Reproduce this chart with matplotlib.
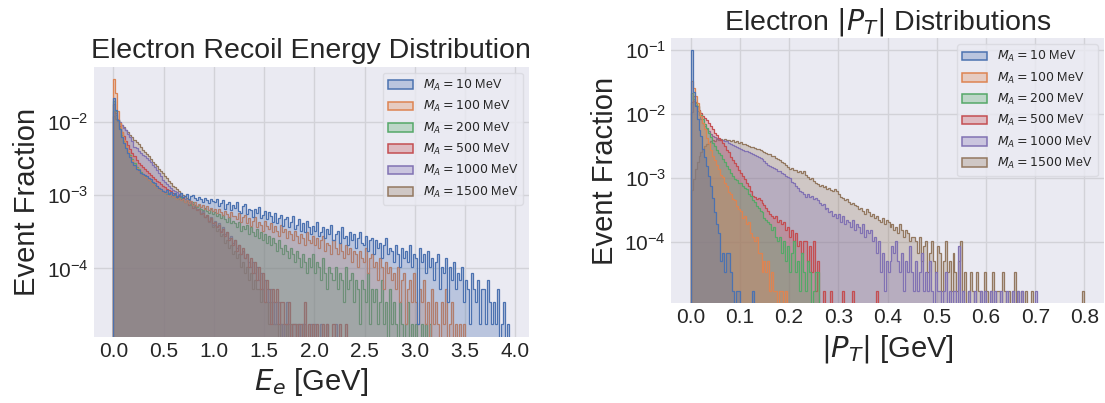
"Electron recoil energy and pT distributions for several A' masses"

import numpy as np
import matplotlib
matplotlib.use("Agg")
import matplotlib.pyplot as plt
from matplotlib.patches import Patch

N_EVENTS = 58000
masses = [10, 100, 200, 500, 1000, 1500]
colors = ["#4C72B0", "#DD8452", "#55A868", "#C44E52", "#8172B3", "#937860"]

# recoil energy histograms: counts per 0.02 GeV bin
ee_edges = np.linspace(0, 3.94, 198)
ee_m10 = [
    1210, 842, 603, 455, 360, 298, 257, 218, 193, 166,
    148, 133, 126, 117, 114, 108, 104, 99, 95, 88,
    84, 77, 73, 70, 66, 64, 67, 60, 63, 58,
    61, 55, 59, 62, 54, 57, 60, 52, 56, 58,
    53, 49, 55, 51, 47, 53, 50, 45, 52, 48,
    47, 52, 41, 45, 50, 38, 44, 47, 36, 42,
    39, 46, 35, 33, 41, 44, 32, 38, 36, 29,
    37, 33, 40, 28, 31, 35, 27, 34, 30, 25,
    33, 24, 28, 31, 22, 27, 29, 21, 25, 30,
    20, 23, 27, 19, 24, 18, 26, 21, 17, 22,
    19, 25, 16, 18, 21, 15, 20, 17, 23, 14,
    17, 19, 13, 21, 15, 16, 12, 18, 14, 17,
    11, 15, 18, 13, 12, 16, 10, 14, 15, 9,
    14, 11, 13, 8, 12, 15, 9, 11, 10, 7,
    12, 9, 6, 11, 8, 10, 7, 12, 6, 9,
    8, 1, 11, 7, 9, 5, 10, 6, 8, 4,
    7, 9, 3, 6, 5, 8, 2, 6, 4, 7,
    3, 5, 4, 6, 2, 4, 3, 1, 5, 3,
    2, 4, 1, 3, 3, 1, 4, 2, 1, 2,
    1, 3, 0, 1, 2, 0, 1]
ee_m100 = [
    2216, 1420, 820, 560, 420, 330, 270, 228, 196, 172,
    150, 136, 124, 116, 109, 103, 98, 92, 87, 83,
    78, 74, 70, 67, 64, 61, 63, 57, 59, 54,
    56, 51, 53, 49, 52, 47, 50, 45, 48, 43,
    46, 41, 44, 40, 42, 38, 41, 36, 39, 35,
    37, 33, 38, 34, 31, 35, 32, 29, 34, 30,
    30, 27, 33, 25, 29, 31, 24, 28, 22, 26,
    29, 21, 25, 23, 19, 26, 22, 20, 24, 18,
    22, 19, 16, 23, 18, 20, 15, 19, 17, 14,
    19, 16, 13, 17, 15, 12, 18, 14, 13, 16,
    12, 15, 11, 14, 16, 10, 13, 12, 9, 14,
    11, 9, 13, 10, 8, 12, 9, 11, 7, 10,
    9, 6, 10, 8, 7, 11, 5, 8, 9, 6,
    7, 4, 8, 6, 3, 7, 5, 6, 4, 5,
    3, 6, 2, 4, 5, 1, 3, 4, 2, 5,
    2, 1, 3, 2, 4, 1, 2, 0, 3, 1,
    2, 1, 0, 2, 1, 3, 0, 1, 2, 0,
    1, 0, 1, 0, 1]
ee_m200 = [
    1120, 810, 610, 470, 380, 315, 268, 232, 203, 178,
    158, 142, 130, 121, 113, 106, 100, 94, 89, 84,
    80, 75, 72, 68, 66, 63, 60, 62, 57, 55,
    58, 53, 51, 54, 49, 47, 50, 45, 43, 46,
    42, 40, 43, 38, 36, 39, 35, 33, 37, 32,
    34, 30, 32, 28, 31, 27, 25, 29, 24, 26,
    24, 21, 25, 19, 22, 20, 23, 17, 21, 18,
    16, 20, 15, 18, 14, 17, 13, 16, 12, 15,
    13, 10, 14, 11, 9, 12, 10, 8, 11, 9,
    7, 10, 8, 6, 9, 7, 5, 8, 6, 9,
    5, 7, 6, 4, 8, 5, 3, 6, 5, 4,
    6, 3, 5, 4, 2, 6, 3, 4, 5, 2,
    4, 3, 1, 4, 3, 2, 5, 1, 3, 2,
    3, 1, 2, 4, 1, 2, 0, 3, 1, 2,
    1, 0, 2, 1, 0, 1, 2, 0, 1, 0,
    1, 0, 0, 1, 0, 1, 0, 1]
ee_m500 = [
    1010, 760, 610, 500, 424, 365, 318, 280, 248, 218,
    195, 176, 160, 150, 140, 131, 122, 115, 108, 101,
    96, 90, 86, 82, 78, 75, 71, 68, 65, 62,
    60, 56, 57, 51, 53, 47, 48, 43, 44, 39,
    40, 36, 37, 32, 33, 29, 31, 26, 28, 24,
    25, 21, 23, 18, 20, 16, 18, 14, 15, 12,
    14, 10, 12, 9, 11, 8, 9, 6, 8, 5,
    7, 4, 6, 3, 5, 2, 4, 3, 1, 3,
    2, 3, 1, 2, 2, 1, 1, 2, 0, 1,
    1, 0, 1, 1, 0, 2, 0, 1, 0, 1,
    0, 1, 0, 0, 1, 0, 1, 0, 0, 1,
    0, 0, 1, 0, 0, 1]
ee_m1000 = [
    820, 720, 640, 580, 530, 480, 440, 400, 360, 320,
    265, 250, 232, 218, 205, 195, 185, 175, 162, 150,
    138, 126, 116, 105, 94, 88, 82, 77, 73, 69,
    66, 63, 60, 57, 55, 52, 50, 47, 45, 43,
    41, 37, 38, 33, 35, 29, 31, 26, 29, 23,
    26, 22, 24, 19, 21, 17, 18, 15, 16, 13,
    14, 11, 12, 9, 10, 8, 9, 7, 6, 7,
    5, 6, 4, 5, 3, 4, 3, 2, 3, 2,
    1, 2, 2, 1, 0, 1, 2, 1, 0, 1,
    1, 0, 1, 0, 1, 1, 0, 0, 1, 0,
    1, 0, 0, 1, 0, 0, 1, 0, 0, 0,
    1]
ee_m1500 = [
    700, 640, 590, 550, 520, 490, 450, 415, 385, 355,
    326, 305, 285, 262, 240, 225, 210, 195, 180, 166,
    155, 143, 132, 123, 115, 106, 98, 90, 84, 78,
    74, 70, 66, 62, 59, 56, 53, 50, 47, 44,
    42, 37, 38, 33, 35, 29, 30, 25, 27, 21,
    23, 19, 20, 16, 17, 13, 14, 11, 12, 9,
    10, 8, 9, 6, 7, 5, 6, 4, 5, 3,
    4, 3, 3, 2, 3, 2, 2, 1, 2, 1,
    1, 1, 0, 1, 1, 0, 1, 0, 1, 0,
    0, 1, 0, 0, 1]

# transverse momentum histograms: counts per 0.004 GeV bin
pt_edges = np.linspace(0, 0.8, 201)
pt_m10 = [
    5765, 1300, 762, 480, 330, 261, 163, 125, 90, 62,
    44, 28, 17, 11, 8, 3, 4, 2, 4, 4,
    2, 1, 0, 1, 1, 0, 0, 0, 0, 0,
    0, 1]
pt_m100 = [
    1900, 1480, 1110, 858, 650, 532, 415, 335, 248, 205,
    158, 128, 113, 92, 82, 66, 61, 48, 43, 35,
    33, 27, 26, 21, 19, 18, 14, 15, 11, 12,
    8, 7, 6, 7, 4, 4, 2, 3, 2, 3,
    1, 2, 1, 1, 0, 1, 1, 0, 1]
pt_m200 = [
    1235, 1010, 862, 760, 645, 556, 482, 408, 352, 298,
    252, 208, 183, 162, 143, 133, 117, 102, 89, 81,
    69, 63, 57, 55, 49, 48, 44, 41, 39, 33,
    31, 26, 25, 21, 20, 18, 17, 14, 13, 12,
    11, 9, 10, 7, 6, 7, 4, 6, 3, 5,
    2, 4, 6, 2, 3, 1, 4, 2, 1, 3,
    2, 0, 1, 2, 2]
pt_m500 = [
    900, 1092, 905, 780, 676, 602, 538, 502, 472, 418,
    372, 335, 298, 272, 248, 232, 208, 187, 161, 146,
    124, 112, 99, 91, 79, 71, 62, 56, 48, 43,
    36, 31, 29, 27, 28, 26, 24, 22, 20, 18,
    16, 15, 14, 15, 12, 13, 11, 12, 9, 10,
    7, 9, 6, 8, 5, 6, 4, 6, 6, 3,
    5, 2, 6, 1, 3, 0, 0, 1, 0, 0,
    0, 1, 0, 0, 0, 0, 0, 1, 0, 0,
    0, 0, 1, 0, 0, 0, 0, 0, 0, 0,
    0, 0, 0, 0, 1]
pt_m1000 = [
    620, 910, 800, 655, 560, 482, 421, 378, 342, 312,
    283, 262, 251, 241, 236, 229, 226, 220, 219, 208,
    201, 189, 186, 176, 171, 163, 161, 154, 152, 147,
    141, 139, 132, 129, 123, 120, 116, 107, 101, 94,
    90, 88, 83, 81, 76, 74, 71, 68, 62, 60,
    58, 50, 48, 43, 41, 36, 35, 33, 30, 33,
    29, 31, 27, 28, 26, 24, 22, 23, 19, 20,
    17, 18, 15, 16, 14, 16, 12, 15, 11, 13,
    12, 10, 13, 9, 11, 10, 8, 11, 7, 9,
    8, 9, 6, 7, 4, 6, 2, 4, 1, 3,
    2, 3, 5, 4, 6, 3, 2, 4, 1, 3,
    2, 5, 2, 1, 3, 1, 2, 4, 1, 2,
    1, 3, 1, 0, 2, 1, 1, 0, 1, 2,
    0, 1, 0, 1, 1, 0, 5, 0, 1, 0,
    0, 1, 0, 0, 1, 0, 0, 1, 0, 1,
    0, 0, 1, 0, 1, 0, 0, 1, 0, 0,
    1, 0, 0, 1, 0, 0, 1, 0, 1, 0,
    0, 0, 0, 0, 0, 1]
pt_m1500 = [
    38, 56, 82, 104, 128, 150, 166, 184, 197, 207,
    219, 226, 224, 233, 229, 236, 231, 234, 227, 230,
    222, 226, 214, 219, 208, 211, 199, 196, 189, 186,
    178, 180, 171, 166, 163, 158, 152, 149, 141, 137,
    136, 127, 130, 119, 116, 113, 104, 99, 92, 86,
    80, 84, 77, 79, 73, 76, 71, 75, 64, 61,
    57, 59, 52, 49, 47, 44, 46, 42, 43, 40,
    41, 38, 36, 39, 37, 33, 30, 28, 26, 27,
    25, 23, 24, 22, 21, 19, 20, 18, 16, 19,
    17, 15, 16, 14, 15, 13, 12, 14, 11, 13,
    12, 10, 11, 9, 10, 8, 11, 9, 7, 9,
    8, 6, 7, 7, 6, 4, 7, 3, 5, 6,
    2, 4, 6, 3, 2, 5, 4, 1, 3, 6,
    2, 3, 1, 4, 2, 1, 3, 6, 1, 2,
    0, 1, 2, 1, 0, 2, 1, 1, 0, 2,
    1, 0, 1, 2, 0, 1, 1, 0, 2, 1,
    0, 1, 0, 1, 2, 0, 1, 0, 1, 0,
    1, 0, 0, 1, 0, 0, 0, 0, 0, 0,
    0, 0, 0, 0, 0, 0, 0, 0, 0, 0,
    0, 0, 0, 0, 0, 0, 0, 0, 0, 1]

ee_counts = [ee_m10, ee_m100, ee_m200, ee_m500, ee_m1000, ee_m1500]
pt_counts = [pt_m10, pt_m100, pt_m200, pt_m500, pt_m1000, pt_m1500]

plt.style.use("seaborn-v0_8-darkgrid")
plt.rcParams["font.family"] = ["Liberation Sans", "DejaVu Sans"]
plt.rcParams["axes.facecolor"] = "#EAEAF2"
plt.rcParams["grid.color"] = "#D2D2D8"
plt.rcParams["grid.linewidth"] = 1.0


def pad(counts, nbins):
    out = np.zeros(nbins)
    out[:len(counts)] = counts
    return out


def plot_hists(ax, edges, all_counts):
    centers = 0.5 * (edges[1:] + edges[:-1])
    nbins = len(centers)
    # draw heaviest mass first so the light ones sit on top
    for counts, c in reversed(list(zip(all_counts, colors))):
        ax.hist(centers, bins=edges, weights=pad(counts, nbins) / N_EVENTS,
                histtype="stepfilled", log=True, facecolor=(c, 0.3),
                edgecolor=c, linewidth=0.9)
    handles = [Patch(facecolor=(c, 0.3), edgecolor=c, linewidth=1.1) for c in colors]
    labels = [rf"$M_A = {m}$ MeV" for m in masses]
    ax.legend(handles, labels, loc="upper right", fontsize=9, frameon=True,
              facecolor="#EAEAF2", edgecolor="#D8D8DE", framealpha=0.8)
    ax.tick_params(axis="both", labelsize=15)
    ax.set_ylabel("Event Fraction", fontsize=21)


fig = plt.figure(figsize=(11.05, 4.03), dpi=100)

ax1 = fig.add_axes([0.0847, 0.1645, 0.3942, 0.670])
plot_hists(ax1, ee_edges, ee_counts)
ax1.set_xticks(np.arange(0, 4.01, 0.5))
ax1.set_xlabel(r"$E_e$ [GeV]", fontsize=21)
ax1.set_title("Electron Recoil Energy Distribution", fontsize=20.5)

ax2 = fig.add_axes([0.6072, 0.2474, 0.3920, 0.6583])
plot_hists(ax2, pt_edges, pt_counts)
ax2.set_xticks(np.arange(0, 0.81, 0.1))
ax2.set_xlabel(r"$|P_T|$ [GeV]", fontsize=21)
ax2.set_title(r"Electron $|P_T|$ Distributions", fontsize=20.5)

fig.savefig("out.png", dpi=100)
